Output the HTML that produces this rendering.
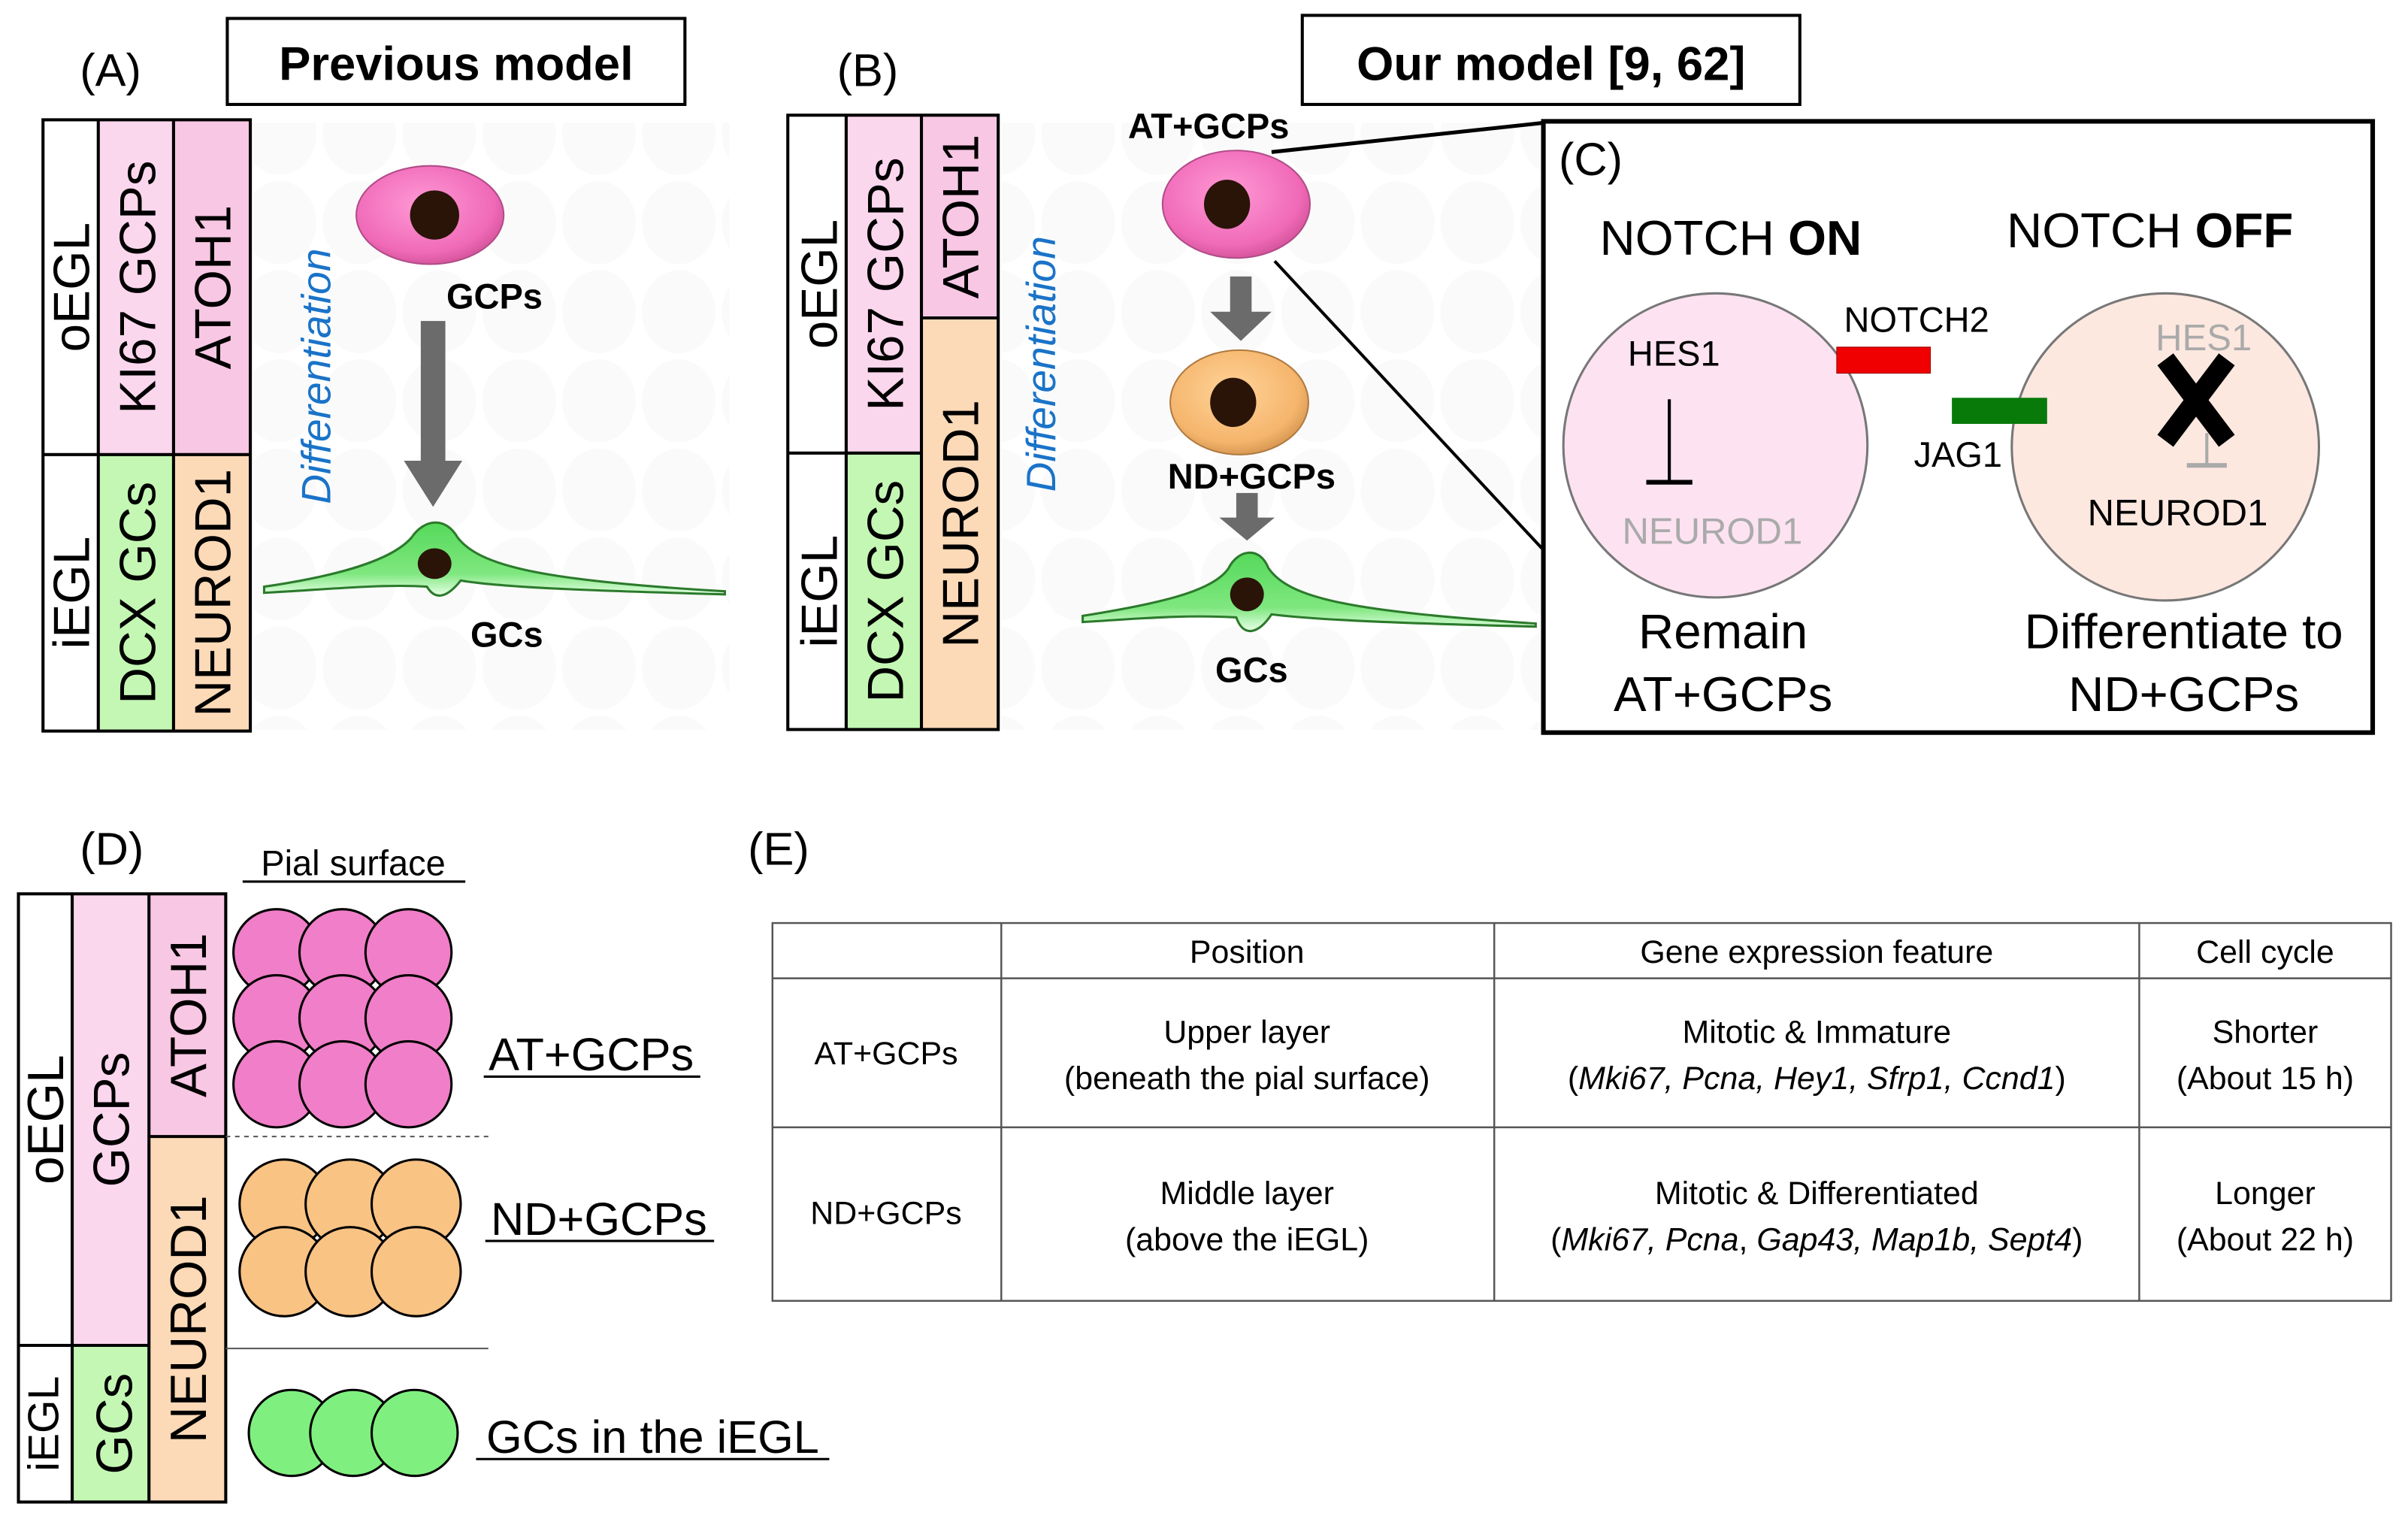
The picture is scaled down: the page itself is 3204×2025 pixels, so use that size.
<!DOCTYPE html>
<html><head><meta charset="utf-8"><style>
html,body{margin:0;padding:0;background:#fff;}
svg{display:block;}
text{font-family:"Liberation Sans",sans-serif;}
</style></head><body>
<svg width="3204" height="2025" viewBox="0 0 1568 991" preserveAspectRatio="none" xmlns="http://www.w3.org/2000/svg">
<defs>
<radialGradient id="pk" cx="45%" cy="40%" r="60%"><stop offset="0" stop-color="#ff9ad6"/><stop offset="0.8" stop-color="#f06ab8"/><stop offset="1" stop-color="#d8569e"/></radialGradient>
<radialGradient id="or" cx="45%" cy="40%" r="60%"><stop offset="0" stop-color="#ffd49a"/><stop offset="0.8" stop-color="#f5b56c"/><stop offset="1" stop-color="#d99a55"/></radialGradient>
<linearGradient id="gr" x1="0" y1="0" x2="0" y2="1"><stop offset="0" stop-color="#55d95a"/><stop offset="0.7" stop-color="#7fe77f"/><stop offset="1" stop-color="#e8ffe8"/></linearGradient>
<pattern id="bg" width="52" height="58" patternUnits="userSpaceOnUse"><ellipse cx="26" cy="29" rx="24" ry="27" fill="#fafafa"/></pattern>
</defs>

<!-- (A) -->
<text x="52" y="56" font-size="30">(A)</text>
<rect x="148" y="12" width="298" height="56" fill="#fff" stroke="#000" stroke-width="2"/>
<text x="297" y="52" font-size="31" font-weight="bold" text-anchor="middle">Previous model</text>
<rect x="165" y="80" width="310" height="395" fill="url(#bg)"/>
<rect x="64" y="78" width="49" height="218" fill="#fbd7ee"/>
<rect x="113" y="78" width="50" height="218" fill="#f8c7e4"/>
<rect x="64" y="296" width="49" height="180" fill="#c4f7b4"/>
<rect x="113" y="296" width="50" height="180" fill="#fcd9b7"/>
<g fill="none" stroke="#000" stroke-width="2">
<rect x="28" y="78" width="135" height="398"/>
<line x1="64" y1="78" x2="64" y2="476"/><line x1="113" y1="78" x2="113" y2="476"/>
<line x1="28" y1="296" x2="163" y2="296"/></g>
<g font-size="33" text-anchor="middle">
<text transform="translate(58,187) rotate(-90)">oEGL</text>
<text transform="translate(101,187) rotate(-90)">KI67 GCPs</text>
<text transform="translate(150,187) rotate(-90)">ATOH1</text>
<text transform="translate(58,386) rotate(-90)">iEGL</text>
<text transform="translate(101,386) rotate(-90)">DCX GCs</text>
<text transform="translate(150,386) rotate(-90)">NEUROD1</text></g>
<text transform="translate(215,245) rotate(-90)" font-size="27" font-style="italic" fill="#1a73c8" text-anchor="middle">Differentiation</text>
<ellipse cx="280" cy="140" rx="48" ry="32" fill="url(#pk)" stroke="#b04c88"/>
<ellipse cx="283" cy="140" rx="16" ry="16" fill="#2a1408"/>
<text x="322" y="201" font-size="23" font-weight="bold" text-anchor="middle">GCPs</text>
<rect x="274" y="209" width="16" height="92" fill="#6b6b6b"/>
<polygon points="263,300 301,300 282,330" fill="#6b6b6b"/>
<path d="M172,382 C220,375 255,365 268,350 C276,338 290,336 298,350 C312,368 350,378 472,385 L472,387 C400,385 330,383 300,378 C292,388 284,392 278,382 C250,380 210,384 172,386 Z" fill="url(#gr)" stroke="#2c7a2c" stroke-width="1.5"/>
<ellipse cx="283" cy="367" rx="11" ry="10" fill="#2a1408"/>
<text x="330" y="421" font-size="23" font-weight="bold" text-anchor="middle">GCs</text>

<!-- (B) -->
<text x="545" y="56" font-size="30">(B)</text>
<rect x="848" y="10" width="324" height="58" fill="#fff" stroke="#000" stroke-width="2"/>
<text x="1010" y="52" font-size="31" font-weight="bold" text-anchor="middle">Our model [9, 62]</text>
<rect x="652" y="80" width="353" height="395" fill="url(#bg)"/>
<rect x="551" y="75" width="49" height="220" fill="#fbd7ee"/>
<rect x="600" y="75" width="50" height="132" fill="#f8c7e4"/>
<rect x="600" y="207" width="50" height="268" fill="#fcd9b7"/>
<rect x="551" y="295" width="49" height="180" fill="#c4f7b4"/>
<g fill="none" stroke="#000" stroke-width="2">
<rect x="513" y="75" width="137" height="400"/>
<line x1="551" y1="75" x2="551" y2="475"/><line x1="600" y1="75" x2="600" y2="475"/>
<line x1="513" y1="295" x2="600" y2="295"/><line x1="600" y1="207" x2="650" y2="207"/></g>
<g font-size="33" text-anchor="middle">
<text transform="translate(545,185) rotate(-90)">oEGL</text>
<text transform="translate(588,185) rotate(-90)">KI67 GCPs</text>
<text transform="translate(637,141) rotate(-90)">ATOH1</text>
<text transform="translate(545,385) rotate(-90)">iEGL</text>
<text transform="translate(588,385) rotate(-90)">DCX GCs</text>
<text transform="translate(637,341) rotate(-90)">NEUROD1</text></g>
<text transform="translate(687,237) rotate(-90)" font-size="27" font-style="italic" fill="#1a73c8" text-anchor="middle">Differentiation</text>
<text x="787" y="90" font-size="23" font-weight="bold" text-anchor="middle">AT+GCPs</text>
<line x1="828" y1="99" x2="1005" y2="80" stroke="#000" stroke-width="2.5"/>
<line x1="830" y1="170" x2="1004" y2="357" stroke="#000" stroke-width="2"/>
<ellipse cx="805" cy="133" rx="48" ry="35" fill="url(#pk)" stroke="#b04c88"/>
<ellipse cx="799" cy="133" rx="15" ry="16" fill="#2a1408"/>
<rect x="801" y="180" width="14" height="24" fill="#6b6b6b"/>
<polygon points="788,203 828,203 808,222" fill="#6b6b6b"/>
<ellipse cx="807" cy="262" rx="45" ry="34" fill="url(#or)" stroke="#b07a40"/>
<ellipse cx="803" cy="262" rx="15" ry="16" fill="#2a1408"/>
<text x="815" y="318" font-size="23" font-weight="bold" text-anchor="middle">ND+GCPs</text>
<rect x="805" y="321" width="14" height="17" fill="#6b6b6b"/>
<polygon points="794,337 830,337 812,352" fill="#6b6b6b"/>
<path d="M705,401 C755,393 790,385 800,370 C806,358 820,355 826,370 C840,390 880,398 1000,406 L1000,408 C920,406 860,404 828,400 C820,412 810,416 805,402 C770,400 740,403 705,405 Z" fill="url(#gr)" stroke="#2c7a2c" stroke-width="1.5"/>
<ellipse cx="812" cy="387" rx="11" ry="11" fill="#2a1408"/>
<text x="815" y="444" font-size="23" font-weight="bold" text-anchor="middle">GCs</text>

<!-- (C) -->
<rect x="1005" y="79" width="540" height="398" fill="#fff" stroke="#000" stroke-width="3"/>
<text x="1015" y="114" font-size="30">(C)</text>
<text x="1127" y="166" font-size="32" text-anchor="middle">NOTCH <tspan font-weight="bold">ON</tspan></text>
<text x="1400" y="161" font-size="32" text-anchor="middle">NOTCH <tspan font-weight="bold">OFF</tspan></text>
<circle cx="1117" cy="290" r="99" fill="#fde3f1" stroke="#777" stroke-width="1.5"/>
<circle cx="1410" cy="291" r="100" fill="#fde8e0" stroke="#777" stroke-width="1.5"/>
<text x="1090" y="238" font-size="23" text-anchor="middle">HES1</text>
<line x1="1087" y1="260" x2="1087" y2="313" stroke="#000" stroke-width="2"/>
<line x1="1072" y1="314" x2="1102" y2="314" stroke="#000" stroke-width="3"/>
<text x="1115" y="354" font-size="24" fill="#aaa" text-anchor="middle">NEUROD1</text>
<text x="1248" y="216" font-size="23" text-anchor="middle">NOTCH2</text>
<rect x="1196" y="226" width="61" height="17" fill="#f00000" stroke="#900" stroke-width="0.5"/>
<rect x="1271" y="259" width="62" height="17" fill="#077a0a"/>
<text x="1275" y="304" font-size="23" text-anchor="middle">JAG1</text>
<text x="1435" y="228" font-size="24" fill="#aaa" text-anchor="middle">HES1</text>
<line x1="1437" y1="282" x2="1437" y2="302" stroke="#aaa" stroke-width="2"/>
<line x1="1424" y1="303" x2="1450" y2="303" stroke="#aaa" stroke-width="3"/>
<g stroke="#000" stroke-width="13"><line x1="1410" y1="234" x2="1450" y2="287"/><line x1="1450" y1="234" x2="1410" y2="287"/></g>
<text x="1418" y="342" font-size="24" text-anchor="middle">NEUROD1</text>
<g font-size="32" text-anchor="middle">
<text x="1122" y="422">Remain</text><text x="1122" y="463">AT+GCPs</text>
<text x="1422" y="422">Differentiate to</text><text x="1422" y="463">ND+GCPs</text></g>

<!-- (D) -->
<text x="52" y="563" font-size="30">(D)</text>
<text x="230" y="570" font-size="23" text-anchor="middle">Pial surface</text>
<line x1="158" y1="574" x2="303" y2="574" stroke="#000" stroke-width="1.5"/>
<rect x="47" y="582" width="50" height="293" fill="#fbd7ee"/>
<rect x="97" y="582" width="50" height="158" fill="#f8c7e4"/>
<rect x="97" y="740" width="50" height="238" fill="#fcd9b7"/>
<rect x="47" y="875" width="50" height="103" fill="#c4f7b4"/>
<g fill="none" stroke="#000" stroke-width="2">
<rect x="12" y="582" width="135" height="396"/>
<line x1="47" y1="582" x2="47" y2="978"/><line x1="97" y1="582" x2="97" y2="978"/>
<line x1="12" y1="876" x2="97" y2="876"/><line x1="97" y1="740" x2="147" y2="740"/></g>
<line x1="147" y1="740" x2="320" y2="740" stroke="#555" stroke-width="1" stroke-dasharray="3,3"/>
<line x1="147" y1="878" x2="318" y2="878" stroke="#555" stroke-width="1"/>
<g font-size="33" text-anchor="middle">
<text transform="translate(41,729) rotate(-90)">oEGL</text>
<text transform="translate(84,729) rotate(-90)">GCPs</text>
<text transform="translate(134,661) rotate(-90)">ATOH1</text>
<text transform="translate(134,859) rotate(-90)">NEUROD1</text>
<text transform="translate(38,927) rotate(-90)" font-size="28">iEGL</text>
<text transform="translate(86,927) rotate(-90)">GCs</text></g>
<g fill="#f07ec8" stroke="#000" stroke-width="1.5">
<circle cx="180" cy="620" r="28"/><circle cx="223" cy="620" r="28"/><circle cx="266" cy="620" r="28"/>
<circle cx="180" cy="663" r="28"/><circle cx="223" cy="663" r="28"/><circle cx="266" cy="663" r="28"/>
<circle cx="180" cy="706" r="28"/><circle cx="223" cy="706" r="28"/><circle cx="266" cy="706" r="28"/></g>
<g fill="#f9c384" stroke="#000" stroke-width="1.5">
<circle cx="185" cy="784" r="29"/><circle cx="228" cy="784" r="29"/><circle cx="271" cy="784" r="29"/>
<circle cx="185" cy="828" r="29"/><circle cx="228" cy="828" r="29"/><circle cx="271" cy="828" r="29"/></g>
<g fill="#7ff07f" stroke="#000" stroke-width="1.5">
<circle cx="190" cy="933" r="28"/><circle cx="230" cy="933" r="28"/><circle cx="270" cy="933" r="28"/></g>
<g font-size="30" text-anchor="middle">
<text x="385" y="697">AT+GCPs</text><text x="390" y="804">ND+GCPs</text><text x="425" y="946">GCs in the iEGL</text></g>
<g stroke="#000" stroke-width="1.5">
<line x1="315" y1="701" x2="456" y2="701"/><line x1="316" y1="808" x2="465" y2="808"/><line x1="310" y1="950" x2="540" y2="950"/></g>

<!-- (E) -->
<text x="487" y="563" font-size="30">(E)</text>
<g fill="none" stroke="#555" stroke-width="1.2">
<rect x="503" y="601" width="1054" height="246"/>
<line x1="652" y1="601" x2="652" y2="847"/><line x1="973" y1="601" x2="973" y2="847"/><line x1="1393" y1="601" x2="1393" y2="847"/>
<line x1="503" y1="637" x2="1557" y2="637"/><line x1="503" y1="734" x2="1557" y2="734"/></g>
<g font-size="21" text-anchor="middle">
<text x="812" y="627">Position</text><text x="1183" y="627">Gene expression feature</text><text x="1475" y="627">Cell cycle</text>
<text x="577" y="693">AT+GCPs</text>
<text x="812" y="679">Upper layer</text><text x="812" y="709">(beneath the pial surface)</text>
<text x="1183" y="679">Mitotic &amp; Immature</text>
<text x="1183" y="709">(<tspan font-style="italic">Mki67, Pcna, Hey1, Sfrp1, Ccnd1</tspan>)</text>
<text x="1475" y="679">Shorter</text><text x="1475" y="709">(About 15 h)</text>
<text x="577" y="797">ND+GCPs</text>
<text x="812" y="784">Middle layer</text><text x="812" y="814">(above the iEGL)</text>
<text x="1183" y="784">Mitotic &amp; Differentiated</text>
<text x="1183" y="814">(<tspan font-style="italic">Mki67, Pcna</tspan>, <tspan font-style="italic">Gap43, Map1b, Sept4</tspan>)</text>
<text x="1475" y="784">Longer</text><text x="1475" y="814">(About 22 h)</text></g>
</svg>
</body></html>
